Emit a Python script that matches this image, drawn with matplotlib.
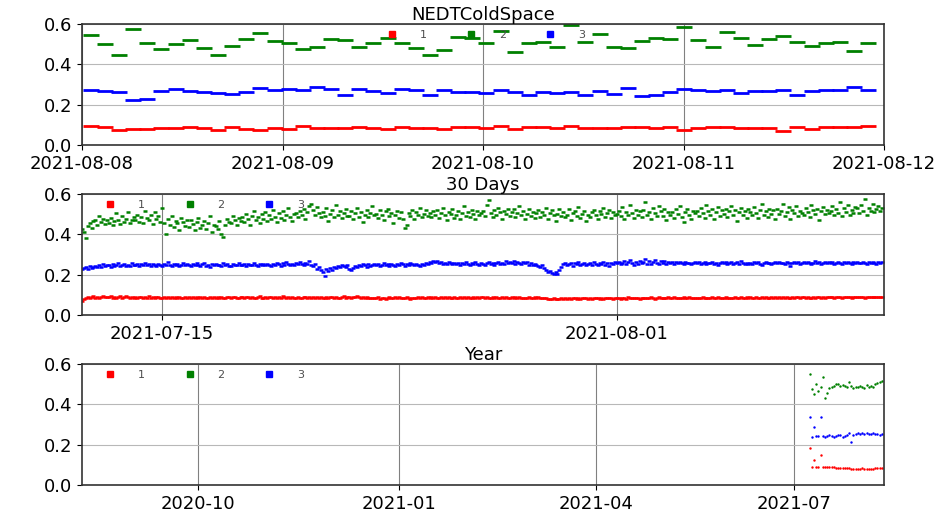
import matplotlib
matplotlib.use("Agg")
import matplotlib.pyplot as plt
import matplotlib.dates as mdates
from matplotlib.lines import Line2D
import numpy as np
import pandas as pd

# ---- data -------------------------------------------------------------
names = ["1", "2", "3"]
colors = ["r", "g", "b"]

# last 4 days, one value per orbit
orbit_start = "2021-08-08 01:03"
orbit_step = pd.Timedelta(minutes=101.5)
days4_red = [0.092, 0.087, 0.073, 0.081, 0.079, 0.084, 0.083, 0.091, 0.083, 0.074,
             0.089, 0.079, 0.076, 0.083, 0.079, 0.092, 0.086, 0.086, 0.086, 0.087,
             0.084, 0.081, 0.091, 0.084, 0.084, 0.079, 0.091, 0.087, 0.086, 0.092,
             0.081, 0.091, 0.087, 0.084, 0.092, 0.084, 0.084, 0.084, 0.091, 0.087,
             0.084, 0.089, 0.076, 0.084, 0.087, 0.087, 0.084, 0.084, 0.084, 0.068,
             0.089, 0.081, 0.089, 0.089, 0.091, 0.092]
days4_green = [0.546, 0.500, 0.447, 0.574, 0.505, 0.477, 0.503, 0.521, 0.480, 0.447,
               0.492, 0.525, 0.558, 0.518, 0.505, 0.477, 0.488, 0.525, 0.521, 0.488,
               0.508, 0.530, 0.505, 0.483, 0.447, 0.472, 0.538, 0.530, 0.508, 0.568,
               0.460, 0.505, 0.510, 0.485, 0.596, 0.510, 0.551, 0.485, 0.483, 0.518,
               0.533, 0.525, 0.584, 0.521, 0.485, 0.559, 0.530, 0.497, 0.525, 0.541,
               0.513, 0.493, 0.505, 0.513, 0.467, 0.505]
days4_blue = [0.271, 0.266, 0.262, 0.221, 0.228, 0.266, 0.279, 0.269, 0.261, 0.257,
              0.252, 0.261, 0.282, 0.271, 0.277, 0.271, 0.287, 0.277, 0.246, 0.277,
              0.266, 0.257, 0.277, 0.271, 0.246, 0.271, 0.261, 0.261, 0.257, 0.271,
              0.262, 0.249, 0.262, 0.257, 0.262, 0.249, 0.266, 0.252, 0.282, 0.241,
              0.249, 0.262, 0.277, 0.274, 0.269, 0.271, 0.257, 0.266, 0.269, 0.274,
              0.249, 0.266, 0.274, 0.274, 0.287, 0.274]

# last 30 days, 14 orbits per day, values in thousandths (one line per day)
month_start = "2021-07-12 00:00"
month_green_txt = """
425 410 382 440 455 430 468 472 445 490 462 478 450 471
458 482 447 466 505 470 452 489 463 478 512 458 470 486
473 498 462 488 455 517 480 470 495 452 509 476 491 463
531 458 402 476 447 490 436 468 455 421 482 462 440 470
438 470 452 419 462 481 430 447 466 428 454 491 412 448
443 425 468 402 389 446 478 462 455 491 470 448 483 467
487 462 503 475 446 492 518 470 484 457 499 478 512 466
495 476 521 488 462 505 482 514 470 497 530 485 468 502
508 487 515 494 526 478 510 541 552 520 496 534 505 488
512 490 530 468 502 521 486 547 498 515 480 506 527 493
492 516 475 505 531 487 510 463 498 522 484 507 540 495
503 481 520 496 470 514 528 489 506 455 497 518 482 509
475 432 446 505 490 522 478 511 496 530 485 503 519 492
506 488 515 497 522 480 508 531 494 470 512 499 527 483
498 516 478 505 540 491 512 487 523 500 478 514 496 508
515 492 548 571 506 485 520 498 532 509 476 517 501 524
493 512 528 485 506 541 497 514 478 502 525 490 510 483
505 521 487 512 496 532 478 508 519 494 465 503 527 489
511 484 498 526 472 507 518 493 535 481 500 514 466 497
488 509 523 494 476 515 499 530 486 504 521 480 512 495
502 518 489 534 476 511 496 545 507 482 523 498 516 487
520 561 497 512 478 531 506 489 540 515 493 528 470 509
495 513 481 527 502 539 488 461 510 524 498 476 515 505
518 490 533 506 482 547 514 497 525 476 509 536 493 521
503 526 487 514 541 495 520 468 509 532 498 515 482 527
511 494 536 508 480 522 549 497 515 486 528 502 519 474
527 500 515 552 489 511 534 476 520 505 542 493 517 508
496 532 510 487 548 519 503 526 472 514 537 499 521 506
515 541 498 524 507 561 489 530 512 547 496 523 505 538
529 505 548 517 574 496 532 514 553 509 527 540 518 532
"""
month_blue_txt = """
228 232 236 230 241 235 238 244 237 246 240 251 243 248
246 240 252 244 249 256 241 248 253 245 250 243 257 247
249 254 243 251 246 258 247 252 244 255 249 241 253 248
244 251 247 262 250 243 255 248 253 241 250 256 246 252
248 241 253 246 256 249 244 251 258 245 250 240 252 247
253 246 250 243 257 248 252 245 241 254 249 246 256 250
247 252 244 255 250 246 258 249 243 251 247 253 246 254
250 245 253 248 256 251 244 257 249 262 252 246 255 250
258 251 264 254 247 259 252 266 249 242 255 229 236 221
214 193 226 218 232 224 238 231 245 239 248 242 236 250
228 222 234 241 236 247 243 251 246 240 252 245 249 254
247 253 242 250 257 246 252 244 255 249 243 251 248 256
251 245 254 249 258 252 246 255 250 243 253 247 256 251
262 256 268 261 270 258 265 252 260 255 263 257 251 259
253 260 248 256 251 262 255 247 258 252 261 254 249 257
255 249 258 264 252 260 247 256 262 251 259 254 266 258
261 257 268 254 263 259 252 265 257 262 250 258 247 253
249 243 238 246 232 225 214 219 208 201 212 205 223 238
251 256 248 254 260 245 257 252 262 249 255 258 246 253
257 250 262 254 248 259 253 265 250 256 244 258 252 261
256 262 251 259 266 254 261 273 257 250 263 255 268 259
262 277 255 268 251 264 272 258 253 266 259 270 254 261
258 264 255 261 257 263 259 254 262 256 260 253 258 262
257 261 254 259 263 252 260 256 262 255 258 250 259 263
256 262 253 258 264 251 257 261 254 266 258 252 260 255
259 254 261 257 263 255 250 258 262 256 260 253 257 264
258 263 256 260 254 261 257 244 259 263 256 261 255 258
261 256 264 258 252 260 266 257 262 254 259 265 256 261
257 262 255 260 265 258 253 261 256 263 258 254 261 259
262 256 260 265 258 254 261 257 263 259 255 262 258 264
"""
month_red_txt = """
068 079 086 091 084 088 093 086 090 084 089 095 087 091
089 093 086 090 084 088 092 085 089 094 087 083 090 086
088 084 091 087 083 089 086 092 085 088 082 087 090 084
086 089 083 088 085 091 084 087 082 089 086 084 088 085
087 083 089 086 090 084 088 085 091 086 083 088 085 089
085 088 084 090 086 083 089 087 084 088 091 086 084 087
088 084 087 091 085 089 086 083 088 092 086 084 089 086
087 090 085 088 084 089 086 092 087 085 089 084 088 086
085 089 086 084 090 087 083 088 086 091 085 088 084 087
086 084 088 085 090 087 084 089 086 083 088 092 086 089
088 085 091 087 096 089 084 087 085 089 083 086 082 085
084 087 081 083 086 080 084 088 085 082 087 084 089 085
086 083 087 084 080 085 082 086 089 084 087 083 085 088
085 088 084 087 083 086 090 085 087 084 088 086 083 087
086 084 088 085 089 084 087 083 086 088 084 087 085 089
087 085 089 086 084 088 085 091 086 083 087 085 088 084
085 088 083 087 085 089 084 086 082 085 088 084 086 087
084 087 085 082 086 084 080 077 079 082 078 081 079 082
080 083 081 084 080 082 085 081 083 079 084 082 085 081
083 080 084 082 085 081 084 080 083 086 082 084 081 085
082 085 081 086 083 080 087 084 082 086 083 085 081 084
084 082 086 083 087 084 081 085 088 083 086 082 085 087
085 083 087 084 082 086 084 088 085 082 087 084 086 083
086 084 082 087 085 083 086 084 088 085 083 087 084 086
084 087 085 082 086 084 088 085 083 087 084 086 089 085
087 085 083 088 086 084 087 085 089 086 084 088 085 087
086 088 084 087 085 089 086 084 088 085 087 090 086 088
088 085 089 086 084 088 086 090 087 085 089 086 088 087
087 089 086 088 091 087 085 089 087 090 088 086 089 088
089 087 090 088 086 090 088 091 089 087 090 088 091 089
"""

# last year, daily means (only July/August 2021 available)
year_start = "2021-07-08"
year_red = [0.185, 0.089, 0.122, 0.089, 0.089, 0.149, 0.088, 0.089, 0.090, 0.089,
            0.088, 0.088, 0.085, 0.082, 0.082, 0.082, 0.083, 0.082, 0.082, 0.080,
            0.080, 0.081, 0.081, 0.081, 0.082, 0.081, 0.081, 0.080, 0.080, 0.081,
            0.083, 0.084, 0.085, 0.085]
year_green = [0.550, 0.474, 0.452, 0.500, 0.468, 0.488, 0.534, 0.431, 0.458, 0.479,
              0.487, 0.493, 0.500, 0.499, 0.493, 0.496, 0.493, 0.488, 0.512, 0.493,
              0.479, 0.484, 0.488, 0.493, 0.488, 0.483, 0.496, 0.484, 0.491, 0.488,
              0.499, 0.504, 0.512, 0.518]
year_blue = [0.336, 0.240, 0.288, 0.245, 0.243, 0.339, 0.245, 0.240, 0.245, 0.250,
             0.243, 0.238, 0.245, 0.250, 0.248, 0.240, 0.243, 0.250, 0.256, 0.215,
             0.250, 0.253, 0.256, 0.253, 0.258, 0.255, 0.258, 0.255, 0.253, 0.258,
             0.253, 0.255, 0.250, 0.253]


def parse(txt):
    return np.array([int(v) for v in txt.split()]) / 1000.0


month_red = parse(month_red_txt)
month_green = parse(month_green_txt)
month_blue = parse(month_blue_txt)

t4 = pd.date_range(orbit_start, periods=len(days4_red), freq=orbit_step)
t30 = pd.date_range(month_start, periods=len(month_red), freq=pd.Timedelta(days=30) / len(month_red))
t365 = pd.date_range(year_start, periods=len(year_red), freq="D")

# ---- figure -----------------------------------------------------------
fig = plt.figure(figsize=(9.34, 5.12), dpi=100)
left, width = 0.0878, 0.8587
ax1 = fig.add_axes([left, 0.717, width, 0.236])
ax2 = fig.add_axes([left, 0.385, width, 0.236])
ax3 = fig.add_axes([left, 0.053, width, 0.236])

panels = [
    (ax1, "NEDTColdSpace", t4, [days4_red, days4_green, days4_blue],
     dict(marker="_", ms=12, mew=2.0)),
    (ax2, "30 Days", t30, [month_red, month_green, month_blue],
     dict(marker="_", ms=3, mew=1.8)),
    (ax3, "Year", t365, [year_red, year_green, year_blue],
     dict(marker=".", ms=3.5, mew=0)),
]

for ax, title, t, series, style in panels:
    for vals, c, n in zip(series, colors, names):
        ax.plot(t, vals, ls="none", color=c, label=n, **style)
    ax.set_ylim(0, 0.6)
    ax.set_yticks([0.0, 0.2, 0.4, 0.6])
    ax.set_title(title, fontsize=13, pad=2)
    ax.tick_params(labelsize=13)
    ax.grid(True, axis="y", color="0.72", lw=0.8)
    ax.grid(True, axis="x", color="0.5", lw=0.8)
    for sp in ax.spines.values():
        sp.set_color("0.2")
        sp.set_linewidth(1.2)

ax1.set_xlim(pd.Timestamp("2021-08-08"), pd.Timestamp("2021-08-12"))
ax1.xaxis.set_major_locator(mdates.DayLocator())
ax1.xaxis.set_major_formatter(mdates.DateFormatter("%Y-%m-%d"))

ax2.set_xlim(pd.Timestamp("2021-07-12"), pd.Timestamp("2021-08-11"))
ax2.xaxis.set_major_locator(mdates.DayLocator(bymonthday=[1, 15]))
ax2.xaxis.set_major_formatter(mdates.DateFormatter("%Y-%m-%d"))

ax3.set_xlim(pd.Timestamp("2020-08-09"), pd.Timestamp("2021-08-11"))
ax3.xaxis.set_major_locator(mdates.MonthLocator(bymonth=[1, 4, 7, 10]))
ax3.xaxis.set_major_formatter(mdates.DateFormatter("%Y-%m"))

# legends: small square markers, three columns, no frame
handles = [Line2D([], [], ls="none", marker="s", ms=4, color=c) for c in colors]
leg_kw = dict(ncol=3, frameon=False, fontsize=8, handlelength=2, handletextpad=1.5,
              columnspacing=3.0, borderaxespad=0, labelcolor="0.3")
ax1.legend(handles, names, loc="upper center", bbox_to_anchor=(0.5, 0.985), **leg_kw)
for ax in (ax2, ax3):
    ax.legend(handles, names, loc="upper left", bbox_to_anchor=(0.016, 0.985), **leg_kw)

fig.savefig("out.png", dpi=100)
